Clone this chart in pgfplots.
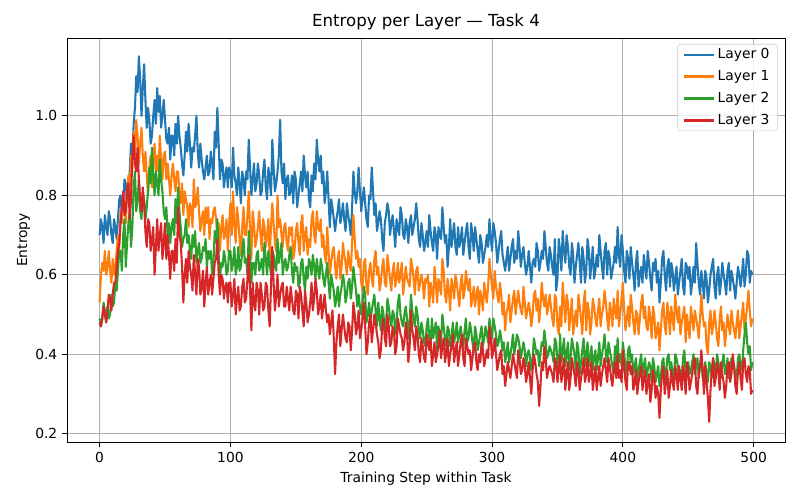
\documentclass[border=0pt]{standalone}
\usepackage{fontspec}
\setmainfont{DejaVu Sans}
\usepackage{pgfplots}
\usepackage{pgfplotstable}
\pgfplotsset{compat=1.18}

\definecolor{c0}{HTML}{1F77B4}
\definecolor{c1}{HTML}{FF7F0E}
\definecolor{c2}{HTML}{2CA02C}
\definecolor{c3}{HTML}{D62728}
\definecolor{gridc}{HTML}{B0B0B0}

% step, layer 0..3
\pgfplotstableread{
x b o g r
0 0.70 0.53 0.49 0.48
1 0.74 0.60 0.47 0.47
2 0.72 0.63 0.49 0.49
3 0.68 0.61 0.53 0.52
4 0.75 0.66 0.51 0.50
5 0.72 0.60 0.48 0.48
6 0.70 0.62 0.52 0.51
7 0.76 0.66 0.49 0.55
8 0.74 0.61 0.50 0.54
9 0.70 0.58 0.55 0.51
10 0.68 0.64 0.52 0.55
11 0.74 0.60 0.53 0.58
12 0.72 0.62 0.58 0.58
13 0.69 0.66 0.56 0.62
14 0.74 0.70 0.61 0.66
15 0.79 0.66 0.66 0.68
16 0.80 0.76 0.66 0.73
17 0.75 0.73 0.61 0.77
18 0.78 0.80 0.70 0.81
19 0.84 0.77 0.74 0.75
20 0.83 0.73 0.62 0.76
21 0.78 0.81 0.68 0.82
22 0.81 0.85 0.73 0.83
23 0.86 0.80 0.76 0.74
24 0.93 0.90 0.67 0.79
25 0.89 0.86 0.72 0.90
26 0.98 0.96 0.82 0.95
27 1.02 0.90 0.86 0.88
28 1.10 0.99 0.76 0.86
29 1.06 0.95 0.79 0.92
30 1.15 0.88 0.84 0.84
31 1.09 0.93 0.76 0.79
32 1.00 0.97 0.74 0.76
33 1.07 0.90 0.80 0.82
34 1.13 0.86 0.79 0.78
35 1.04 0.91 0.74 0.71
36 0.97 0.85 0.77 0.67
37 1.02 0.80 0.81 0.74
38 0.99 0.87 0.87 0.73
39 0.93 0.90 0.83 0.66
40 0.95 0.82 0.92 0.69
41 1.00 0.88 0.85 0.72
42 1.04 0.93 0.80 0.60
43 0.98 0.86 0.86 0.67
44 1.07 0.90 0.83 0.74
45 1.01 0.86 0.80 0.66
46 1.05 0.95 0.89 0.70
47 0.97 0.89 0.84 0.73
48 1.00 0.84 0.81 0.64
49 1.04 0.90 0.76 0.68
50 0.99 0.91 0.74 0.73
51 0.94 0.84 0.77 0.64
52 0.93 0.88 0.70 0.70
53 0.97 0.84 0.73 0.65
54 0.89 0.80 0.68 0.59
55 0.95 0.85 0.72 0.66
56 0.95 0.88 0.74 0.66
57 0.90 0.84 0.70 0.61
58 0.98 0.81 0.79 0.69
59 0.93 0.86 0.73 0.63
60 1.00 0.86 0.82 0.77
61 0.95 0.80 0.76 0.70
62 0.92 0.78 0.72 0.68
63 0.88 0.83 0.67 0.62
64 0.85 0.75 0.69 0.53
65 0.90 0.81 0.70 0.60
66 0.96 0.79 0.74 0.64
67 0.91 0.77 0.68 0.58
68 0.98 0.72 0.70 0.66
69 0.93 0.78 0.66 0.62
70 0.87 0.77 0.64 0.60
71 0.92 0.72 0.70 0.56
72 0.91 0.84 0.67 0.65
73 0.95 0.77 0.71 0.60
74 1.00 0.78 0.63 0.55
75 0.91 0.82 0.66 0.64
76 0.87 0.76 0.68 0.62
77 0.93 0.71 0.63 0.55
78 0.89 0.74 0.64 0.57
79 0.86 0.76 0.67 0.61
80 0.84 0.70 0.66 0.52
81 0.87 0.77 0.69 0.58
82 0.90 0.73 0.62 0.62
83 0.85 0.77 0.66 0.55
84 0.86 0.69 0.64 0.58
85 0.91 0.74 0.66 0.60
86 0.88 0.73 0.60 0.55
87 0.84 0.76 0.63 0.59
88 0.96 0.77 0.71 0.63
89 0.92 0.74 0.68 0.64
90 1.02 0.70 0.74 0.69
91 0.93 0.73 0.65 0.60
92 0.84 0.66 0.59 0.55
93 0.89 0.72 0.63 0.60
94 0.88 0.75 0.62 0.59
95 0.82 0.69 0.66 0.54
96 0.85 0.70 0.64 0.57
97 0.87 0.74 0.60 0.58
98 0.82 0.66 0.61 0.53
99 0.87 0.73 0.66 0.58
100 0.86 0.78 0.66 0.58
101 0.82 0.70 0.61 0.52
102 0.92 0.81 0.63 0.55
103 0.85 0.73 0.67 0.59
104 0.83 0.68 0.60 0.50
105 0.80 0.77 0.62 0.54
106 0.87 0.74 0.67 0.57
107 0.83 0.69 0.61 0.51
108 0.78 0.65 0.62 0.52
109 0.86 0.72 0.66 0.57
110 0.84 0.77 0.69 0.59
111 0.80 0.70 0.63 0.53
112 0.86 0.70 0.64 0.54
113 0.84 0.75 0.60 0.59
114 0.94 0.81 0.71 0.65
115 0.87 0.71 0.65 0.56
116 0.80 0.64 0.58 0.46
117 0.84 0.76 0.63 0.58
118 0.88 0.73 0.63 0.53
119 0.81 0.67 0.60 0.51
120 0.83 0.69 0.65 0.58
121 0.88 0.72 0.66 0.56
122 0.85 0.76 0.61 0.50
123 0.80 0.70 0.62 0.58
124 0.81 0.66 0.64 0.55
125 0.86 0.74 0.60 0.51
126 0.89 0.72 0.68 0.52
127 0.82 0.67 0.64 0.58
128 0.79 0.70 0.60 0.57
129 0.87 0.74 0.66 0.51
130 0.84 0.64 0.63 0.47
131 0.80 0.72 0.60 0.57
132 0.94 0.78 0.66 0.67
133 0.87 0.73 0.65 0.58
134 0.81 0.68 0.62 0.51
135 0.83 0.66 0.61 0.55
136 0.86 0.80 0.69 0.60
137 0.90 0.72 0.63 0.52
138 0.99 0.74 0.65 0.55
139 0.86 0.70 0.68 0.57
140 0.83 0.67 0.60 0.58
141 0.88 0.72 0.63 0.52
142 0.79 0.73 0.64 0.52
143 0.84 0.68 0.61 0.57
144 0.85 0.66 0.62 0.54
145 0.80 0.72 0.65 0.51
146 0.81 0.70 0.67 0.57
147 0.85 0.72 0.61 0.54
148 0.78 0.64 0.58 0.51
149 0.86 0.66 0.63 0.50
150 0.84 0.71 0.61 0.56
151 0.77 0.73 0.62 0.55
152 0.80 0.68 0.57 0.49
153 0.83 0.65 0.58 0.57
154 0.86 0.73 0.63 0.55
155 0.81 0.75 0.64 0.51
156 0.90 0.66 0.59 0.47
157 0.85 0.70 0.56 0.56
158 0.82 0.72 0.62 0.53
159 0.86 0.65 0.59 0.48
160 0.79 0.69 0.64 0.50
161 0.77 0.67 0.63 0.53
162 0.85 0.74 0.60 0.58
163 0.81 0.76 0.65 0.51
164 0.88 0.70 0.62 0.54
165 0.84 0.68 0.59 0.59
166 0.94 0.76 0.64 0.56
167 0.89 0.72 0.61 0.50
168 0.86 0.71 0.59 0.52
169 0.90 0.74 0.64 0.55
170 0.83 0.67 0.62 0.49
171 0.86 0.70 0.59 0.52
172 0.78 0.65 0.57 0.55
173 0.81 0.63 0.60 0.51
174 0.86 0.72 0.63 0.48
175 0.79 0.66 0.58 0.50
176 0.72 0.60 0.54 0.45
177 0.79 0.63 0.60 0.48
178 0.77 0.66 0.58 0.51
179 0.74 0.67 0.56 0.44
180 0.71 0.62 0.52 0.35
181 0.74 0.59 0.54 0.43
182 0.76 0.64 0.57 0.47
183 0.79 0.66 0.52 0.50
184 0.73 0.59 0.55 0.42
185 0.75 0.62 0.57 0.46
186 0.78 0.68 0.60 0.50
187 0.74 0.65 0.58 0.47
188 0.71 0.63 0.53 0.44
189 0.78 0.60 0.55 0.43
190 0.75 0.66 0.58 0.48
191 0.73 0.63 0.59 0.47
192 0.70 0.61 0.54 0.41
193 0.77 0.68 0.57 0.46
194 0.86 0.75 0.62 0.53
195 0.81 0.69 0.59 0.50
196 0.78 0.64 0.56 0.45
197 0.81 0.66 0.52 0.47
198 0.87 0.62 0.55 0.51
199 0.81 0.64 0.52 0.44
200 0.76 0.58 0.50 0.46
201 0.79 0.56 0.53 0.49
202 0.82 0.63 0.57 0.53
203 0.78 0.64 0.55 0.47
204 0.74 0.57 0.48 0.40
205 0.72 0.55 0.50 0.43
206 0.80 0.61 0.53 0.48
207 0.79 0.63 0.48 0.50
208 0.87 0.59 0.51 0.43
209 0.81 0.57 0.53 0.46
210 0.75 0.64 0.55 0.50
211 0.78 0.66 0.51 0.48
212 0.71 0.60 0.47 0.45
213 0.73 0.62 0.53 0.43
214 0.76 0.56 0.49 0.39
215 0.74 0.58 0.46 0.41
216 0.69 0.62 0.52 0.47
217 0.66 0.64 0.50 0.49
218 0.73 0.58 0.46 0.44
219 0.75 0.57 0.48 0.42
220 0.78 0.65 0.54 0.50
221 0.76 0.62 0.52 0.47
222 0.70 0.59 0.49 0.42
223 0.73 0.56 0.47 0.43
224 0.75 0.61 0.51 0.47
225 0.71 0.63 0.50 0.46
226 0.67 0.57 0.45 0.40
227 0.74 0.59 0.48 0.42
228 0.72 0.63 0.53 0.49
229 0.70 0.58 0.55 0.47
230 0.77 0.60 0.50 0.45
231 0.75 0.63 0.48 0.44
232 0.70 0.55 0.47 0.41
233 0.69 0.58 0.50 0.43
234 0.74 0.62 0.52 0.48
235 0.72 0.59 0.49 0.45
236 0.68 0.58 0.44 0.38
237 0.73 0.57 0.48 0.42
238 0.75 0.64 0.55 0.51
239 0.70 0.62 0.51 0.46
240 0.72 0.59 0.49 0.44
241 0.74 0.55 0.47 0.41
242 0.78 0.61 0.52 0.47
243 0.74 0.62 0.50 0.45
244 0.69 0.56 0.46 0.40
245 0.67 0.58 0.44 0.38
246 0.73 0.60 0.48 0.44
247 0.70 0.58 0.46 0.42
248 0.66 0.54 0.43 0.39
249 0.68 0.59 0.42 0.38
250 0.71 0.58 0.47 0.45
251 0.67 0.60 0.49 0.43
252 0.75 0.52 0.44 0.41
253 0.71 0.58 0.43 0.44
254 0.68 0.56 0.49 0.37
255 0.66 0.53 0.44 0.40
256 0.72 0.62 0.46 0.43
257 0.70 0.58 0.48 0.38
258 0.64 0.53 0.41 0.40
259 0.72 0.59 0.47 0.42
260 0.70 0.57 0.45 0.46
261 0.69 0.55 0.43 0.39
262 0.77 0.64 0.50 0.42
263 0.72 0.61 0.47 0.44
264 0.68 0.55 0.44 0.38
265 0.70 0.53 0.42 0.40
266 0.62 0.59 0.47 0.44
267 0.67 0.56 0.46 0.37
268 0.74 0.51 0.42 0.40
269 0.67 0.59 0.44 0.42
270 0.70 0.57 0.48 0.45
271 0.73 0.54 0.43 0.38
272 0.67 0.60 0.45 0.41
273 0.65 0.58 0.48 0.43
274 0.72 0.55 0.43 0.37
275 0.67 0.52 0.45 0.40
276 0.69 0.58 0.47 0.43
277 0.72 0.60 0.44 0.45
278 0.65 0.54 0.42 0.39
279 0.68 0.56 0.46 0.37
280 0.71 0.61 0.49 0.44
281 0.73 0.58 0.43 0.42
282 0.67 0.56 0.44 0.40
283 0.64 0.59 0.48 0.41
284 0.73 0.52 0.46 0.36
285 0.70 0.54 0.43 0.39
286 0.66 0.57 0.41 0.42
287 0.72 0.52 0.47 0.43
288 0.69 0.55 0.45 0.38
289 0.66 0.57 0.41 0.36
290 0.63 0.50 0.43 0.40
291 0.70 0.56 0.45 0.38
292 0.68 0.54 0.47 0.43
293 0.63 0.51 0.42 0.41
294 0.65 0.58 0.44 0.37
295 0.67 0.55 0.47 0.39
296 0.70 0.53 0.45 0.41
297 0.67 0.57 0.43 0.39
298 0.74 0.64 0.49 0.47
299 0.69 0.60 0.46 0.44
300 0.66 0.57 0.44 0.39
301 0.73 0.54 0.49 0.41
302 0.71 0.61 0.47 0.44
303 0.68 0.57 0.45 0.40
304 0.63 0.55 0.42 0.36
305 0.66 0.53 0.43 0.38
306 0.69 0.58 0.46 0.40
307 0.71 0.55 0.44 0.41
308 0.65 0.50 0.41 0.35
309 0.63 0.53 0.43 0.37
310 0.61 0.46 0.38 0.32
311 0.64 0.50 0.40 0.35
312 0.67 0.52 0.43 0.38
313 0.61 0.55 0.38 0.36
314 0.64 0.48 0.40 0.34
315 0.67 0.51 0.42 0.37
316 0.69 0.54 0.45 0.40
317 0.63 0.56 0.40 0.38
318 0.66 0.50 0.42 0.36
319 0.64 0.53 0.45 0.34
320 0.71 0.56 0.44 0.41
321 0.67 0.53 0.42 0.39
322 0.62 0.51 0.39 0.35
323 0.65 0.50 0.41 0.36
324 0.67 0.57 0.43 0.39
325 0.63 0.53 0.41 0.37
326 0.60 0.49 0.37 0.33
327 0.62 0.51 0.40 0.35
328 0.66 0.53 0.41 0.38
329 0.62 0.51 0.39 0.34
330 0.58 0.47 0.36 0.30
331 0.63 0.50 0.39 0.36
332 0.64 0.55 0.44 0.40
333 0.62 0.56 0.42 0.38
334 0.68 0.51 0.40 0.35
335 0.66 0.54 0.41 0.33
336 0.61 0.48 0.37 0.27
337 0.63 0.52 0.40 0.32
338 0.66 0.58 0.43 0.38
339 0.64 0.54 0.42 0.36
340 0.71 0.52 0.46 0.42
341 0.67 0.55 0.43 0.39
342 0.63 0.50 0.39 0.34
343 0.61 0.52 0.40 0.36
344 0.67 0.55 0.42 0.37
345 0.65 0.52 0.41 0.36
346 0.62 0.49 0.40 0.35
347 0.60 0.47 0.38 0.33
348 0.69 0.55 0.44 0.39
349 0.56 0.54 0.43 0.38
350 0.59 0.47 0.38 0.33
351 0.69 0.45 0.36 0.36
352 0.66 0.52 0.45 0.40
353 0.61 0.47 0.38 0.33
354 0.71 0.58 0.41 0.36
355 0.66 0.53 0.44 0.39
356 0.63 0.48 0.37 0.31
357 0.70 0.55 0.40 0.35
358 0.67 0.53 0.43 0.38
359 0.62 0.46 0.36 0.31
360 0.60 0.50 0.39 0.34
361 0.68 0.54 0.44 0.39
362 0.65 0.45 0.42 0.37
363 0.58 0.48 0.40 0.35
364 0.62 0.51 0.36 0.32
365 0.65 0.47 0.43 0.38
366 0.68 0.55 0.41 0.36
367 0.63 0.52 0.35 0.31
368 0.58 0.49 0.38 0.34
369 0.67 0.45 0.41 0.36
370 0.64 0.53 0.44 0.39
371 0.58 0.56 0.37 0.33
372 0.61 0.46 0.40 0.35
373 0.69 0.53 0.43 0.39
374 0.66 0.51 0.37 0.33
375 0.59 0.45 0.39 0.35
376 0.63 0.48 0.42 0.38
377 0.67 0.54 0.36 0.31
378 0.59 0.52 0.39 0.34
379 0.61 0.49 0.41 0.37
380 0.65 0.47 0.36 0.31
381 0.62 0.51 0.39 0.34
382 0.70 0.54 0.43 0.37
383 0.66 0.47 0.37 0.32
384 0.62 0.50 0.40 0.35
385 0.59 0.52 0.42 0.37
386 0.66 0.56 0.45 0.39
387 0.68 0.53 0.40 0.36
388 0.60 0.49 0.38 0.33
389 0.66 0.46 0.43 0.39
390 0.64 0.53 0.41 0.37
391 0.59 0.51 0.39 0.34
392 0.61 0.47 0.37 0.32
393 0.63 0.54 0.35 0.36
394 0.67 0.51 0.42 0.38
395 0.63 0.49 0.38 0.34
396 0.72 0.56 0.44 0.40
397 0.65 0.47 0.38 0.34
398 0.62 0.50 0.40 0.36
399 0.70 0.54 0.37 0.33
400 0.66 0.58 0.43 0.41
401 0.61 0.51 0.40 0.37
402 0.58 0.46 0.37 0.33
403 0.66 0.49 0.35 0.31
404 0.64 0.52 0.41 0.38
405 0.59 0.47 0.42 0.38
406 0.67 0.55 0.38 0.35
407 0.63 0.52 0.40 0.37
408 0.60 0.48 0.35 0.31
409 0.56 0.45 0.37 0.33
410 0.63 0.51 0.39 0.36
411 0.66 0.50 0.34 0.30
412 0.57 0.45 0.36 0.33
413 0.60 0.49 0.38 0.35
414 0.62 0.53 0.40 0.37
415 0.58 0.55 0.35 0.31
416 0.65 0.49 0.37 0.34
417 0.62 0.52 0.39 0.36
418 0.59 0.47 0.34 0.30
419 0.66 0.46 0.36 0.33
420 0.63 0.52 0.38 0.35
421 0.59 0.49 0.37 0.28
422 0.56 0.44 0.33 0.31
423 0.63 0.52 0.39 0.36
424 0.61 0.50 0.37 0.34
425 0.64 0.44 0.33 0.29
426 0.58 0.46 0.35 0.32
427 0.61 0.48 0.37 0.30
428 0.53 0.41 0.32 0.24
429 0.58 0.46 0.34 0.31
430 0.64 0.51 0.38 0.35
431 0.66 0.53 0.39 0.37
432 0.60 0.47 0.34 0.30
433 0.56 0.45 0.35 0.33
434 0.62 0.53 0.39 0.36
435 0.64 0.50 0.40 0.29
436 0.57 0.45 0.36 0.32
437 0.63 0.52 0.38 0.36
438 0.61 0.49 0.35 0.33
439 0.56 0.46 0.33 0.31
440 0.59 0.55 0.40 0.37
441 0.62 0.51 0.39 0.35
442 0.55 0.48 0.37 0.31
443 0.58 0.52 0.34 0.37
444 0.61 0.45 0.36 0.34
445 0.64 0.48 0.34 0.31
446 0.57 0.50 0.39 0.37
447 0.55 0.52 0.41 0.35
448 0.63 0.43 0.35 0.30
449 0.62 0.50 0.36 0.38
450 0.59 0.47 0.38 0.36
451 0.62 0.44 0.35 0.31
452 0.55 0.52 0.36 0.33
453 0.58 0.49 0.38 0.35
454 0.62 0.46 0.40 0.38
455 0.58 0.51 0.35 0.39
456 0.68 0.49 0.37 0.32
457 0.63 0.47 0.39 0.30
458 0.58 0.44 0.34 0.35
459 0.55 0.49 0.37 0.37
460 0.61 0.55 0.39 0.41
461 0.58 0.50 0.34 0.36
462 0.54 0.47 0.36 0.30
463 0.61 0.48 0.38 0.37
464 0.59 0.42 0.35 0.33
465 0.53 0.40 0.33 0.29
466 0.56 0.48 0.38 0.23
467 0.60 0.51 0.37 0.31
468 0.62 0.45 0.34 0.36
469 0.64 0.47 0.39 0.39
470 0.57 0.51 0.37 0.32
471 0.54 0.48 0.35 0.34
472 0.60 0.44 0.40 0.38
473 0.62 0.42 0.38 0.36
474 0.55 0.49 0.36 0.31
475 0.58 0.52 0.34 0.38
476 0.63 0.46 0.38 0.35
477 0.60 0.48 0.40 0.33
478 0.58 0.42 0.35 0.29
479 0.55 0.46 0.36 0.32
480 0.61 0.50 0.39 0.37
481 0.63 0.47 0.34 0.38
482 0.56 0.45 0.36 0.33
483 0.61 0.51 0.39 0.35
484 0.59 0.48 0.38 0.40
485 0.57 0.46 0.37 0.37
486 0.54 0.44 0.35 0.32
487 0.58 0.48 0.34 0.30
488 0.62 0.51 0.39 0.36
489 0.60 0.44 0.40 0.38
490 0.57 0.47 0.37 0.34
491 0.60 0.50 0.36 0.31
492 0.64 0.53 0.41 0.38
493 0.57 0.46 0.45 0.39
494 0.60 0.49 0.48 0.35
495 0.66 0.52 0.43 0.33
496 0.65 0.56 0.40 0.37
497 0.58 0.51 0.42 0.36
498 0.61 0.47 0.36 0.30
499 0.60 0.49 0.38 0.31
}\entropy

\begin{document}
\begin{tikzpicture}
\useasboundingbox (-0.67in,-0.58in) rectangle (7.33in,4.42in);
\begin{axis}[
  at={(0,0)}, anchor=south west,
  scale only axis,
  width=7.18in, height=4.04in,
  xmin=-24.95, xmax=523.95,
  ymin=0.179, ymax=1.196,
  xtick={0,100,...,500},
  ytick={0.2,0.4,...,1.0},
  yticklabel style={/pgf/number format/.cd, fixed, fixed zerofill, precision=1},
  /pgf/number format/assume math mode=true,
  tick align=outside,
  major tick length=3.5pt,
  tick style={black, line width=0.6pt},
  xtick pos=bottom, ytick pos=left,
  axis line style={line width=0.6pt},
  grid=major,
  grid style={gridc, line width=0.8pt},
  title={Entropy per Layer — Task 4},
  title style={font=\fontsize{12}{14}\selectfont, yshift=-4pt},
  xlabel={Training Step within Task},
  ylabel={Entropy},
  ylabel shift=-3pt,
  label style={font=\fontsize{10}{12}\selectfont},
  tick label style={font=\fontsize{10}{12}\selectfont},
  legend style={at={(1,1)}, anchor=north east, xshift=-0.07in, yshift=-0.06in,
    draw=black!20, rounded corners=2pt, fill=white, fill opacity=0.8, text opacity=1,
    font=\fontsize{10}{12}\selectfont, row sep=3pt, inner xsep=4pt, inner ysep=1pt},
  legend cell align=left,
  legend image code/.code={\draw[#1] (0cm,0cm) -- (0.75cm,0cm);},
  every axis plot/.append style={line width=1.5pt, line join=round},
]
\addplot[c0] table[x=x, y=b] {\entropy};
\addlegendentry{Layer 0}
\addplot[c1] table[x=x, y=o] {\entropy};
\addlegendentry{Layer 1}
\addplot[c2] table[x=x, y=g] {\entropy};
\addlegendentry{Layer 2}
\addplot[c3] table[x=x, y=r] {\entropy};
\addlegendentry{Layer 3}
\end{axis}
\end{tikzpicture}
\end{document}
